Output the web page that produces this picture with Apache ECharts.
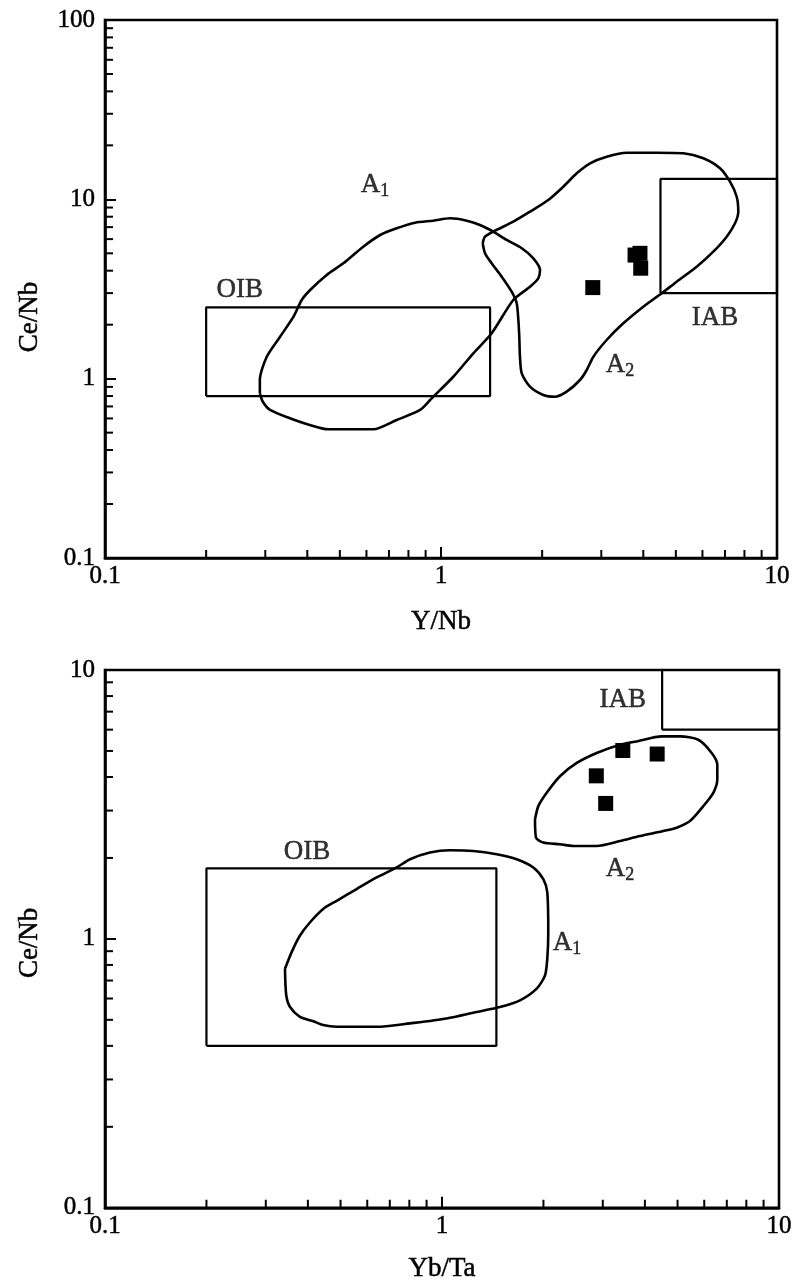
<!DOCTYPE html>
<html>
<head>
<meta charset="utf-8">
<script src="https://cdn.jsdelivr.net/npm/echarts@6/dist/echarts.min.js"></script>
<style>html,body{margin:0;padding:0;background:#fff}#c{width:800px;height:1284px}</style>
</head>
<body>
<div id="c"></div>
<script>
// ---------- data ----------
const topXName = 'Y/Nb';
const topYName = 'Ce/Nb';
const botXName = 'Yb/Ta';
const botYName = 'Ce/Nb';

// field boundaries (closed outlines), [x, y]
const topA1 = [[0.289,0.829],[0.295,0.744],[0.310,0.669],[0.355,0.601],[0.398,0.559],[0.462,0.522],[0.629,0.522],[0.738,0.588],[0.866,0.669],[0.938,0.777],[1.088,1.025],[1.248,1.385],[1.415,1.790],[1.641,2.746],[1.840,3.257],[1.948,3.627],[1.971,4.036],[1.883,4.690],[1.739,5.334],[1.569,5.934],[1.431,6.598],[1.306,7.193],[1.193,7.600],[1.064,7.838],[0.949,7.600],[0.837,7.408],[0.738,6.895],[0.659,6.326],[0.587,5.444],[0.512,4.399],[0.457,3.785],[0.408,3.122],[0.385,2.746],[0.364,2.216],[0.332,1.714],[0.303,1.326],[0.289,0.983]];
const topA2 = [[1.331,5.686],[1.352,6.189],[1.448,6.684],[1.641,7.506],[1.840,8.532],[2.086,9.915],[2.312,11.76],[2.535,13.97],[2.777,15.88],[3.112,17.29],[3.570,18.20],[4.385,18.20],[5.262,18.06],[6.036,16.93],[6.767,14.89],[7.246,12.54],[7.587,10.34],[7.670,8.532],[7.499,7.350],[7.085,6.189],[6.462,5.105],[5.768,4.210],[5.028,3.473],[4.538,2.992],[4.000,2.519],[3.488,2.035],[3.112,1.643],[2.841,1.326],[2.715,1.118],[2.592,0.983],[2.366,0.846],[2.184,0.793],[2.016,0.811],[1.840,0.902],[1.739,1.071],[1.718,1.326],[1.710,1.714],[1.699,2.124],[1.680,2.632],[1.623,3.054],[1.516,3.704],[1.415,4.399],[1.352,5.003]];
const botA1 = [[0.342,0.774],[0.345,0.617],[0.354,0.558],[0.379,0.513],[0.415,0.494],[0.444,0.478],[0.487,0.471],[0.655,0.471],[0.804,0.485],[1.033,0.506],[1.268,0.535],[1.486,0.558],[1.704,0.591],[1.910,0.653],[2.021,0.731],[2.053,0.843],[2.067,1.059],[2.053,1.489],[1.998,1.668],[1.866,1.844],[1.666,1.978],[1.453,2.064],[1.238,2.123],[1.056,2.136],[0.921,2.095],[0.804,1.978],[0.734,1.844],[0.640,1.692],[0.558,1.532],[0.487,1.386],[0.444,1.292],[0.406,1.153],[0.379,1.029],[0.358,0.893]];
const botA2 = [[1.888,2.783],[1.901,2.381],[1.998,2.281],[2.239,2.248],[2.453,2.216],[2.877,2.216],[3.375,2.312],[3.869,2.413],[4.536,2.518],[4.972,2.592],[5.444,2.743],[5.962,3.117],[6.383,3.494],[6.560,3.914],[6.560,4.448],[6.313,4.915],[5.761,5.503],[5.085,5.662],[4.486,5.662],[3.782,5.424],[3.375,5.275],[2.877,4.915],[2.511,4.512],[2.239,4.026],[2.045,3.494],[1.931,3.117]];

// rectangles: [xMin, xMax, yMin, yMax]
const topOIB = [0.2, 1.4, 0.8, 2.5];
const topIAB = [4.5, 10, 3.0, 13];
const botOIB = [0.2, 1.45, 0.4, 1.83];
const botIAB = [4.5, 10, 6.0, 10];

// samples
const topSamples = [[2.83,3.22],[3.91,5.00],[3.78,4.89],[3.93,4.13]];
const botSamples = [[3.44,5.02],[4.35,4.87],[2.87,4.04],[3.06,3.19]];

// axis ranges and minor ticks
const xRange = [0.1, 10];
const topYRange = [0.1, 100];
const botYRange = [0.1, 10];
const minorX = [0.2,0.3,0.4,0.5,0.6,0.7,0.8,0.9,2,3,4,5,6,7,8,9];
const minorTopY = [0.2,0.3,0.4,0.5,0.6,0.7,0.8,0.9,2,3,4,5,6,7,8,9,20,30,40,50,60,70,80,90];
const minorBotY = [0.2,0.3,0.4,0.5,0.6,0.7,0.8,0.9,2,3,4,5,6,7,8,9];

// field labels: [text key, x, y]
const topLabels = [['A1',0.636,12.0],['OIB',0.252,3.12],['IAB',6.54,2.18],['A2',3.41,1.19]];
const botLabels = [['IAB',3.44,7.74],['OIB',0.3975,2.10],['A2',3.375,1.816],['A1',2.35,0.967]];

// ---------- chart ----------
const FONT = '"Liberation Serif","Times New Roman",serif';
const FS = 27;
const TFS = 25;
const LW = 2.6;
const TB = {textBorderColor:'#000', textBorderWidth:0.5};

function closeRing(arr){ return arr.concat([arr[0]]); }
function rectRing(b){ return [[b[0],b[2]],[b[1],b[2]],[b[1],b[3]],[b[0],b[3]],[b[0],b[2]]]; }

function xAxisDef(gi, name, gap){
  return {
    gridIndex: gi, type:'log', logBase:10, min:xRange[0], max:xRange[1],
    name:name, nameLocation:'middle', nameGap:gap,
    nameTextStyle:Object.assign({fontFamily:FONT, fontSize:FS, color:'#000'}, TB),
    axisLine:{onZero:false, lineStyle:{color:'#000', width:2.6}},
    axisTick:{inside:true, length:11, lineStyle:{color:'#000', width:2}},
    axisLabel:Object.assign({fontFamily:FONT, fontSize:TFS, color:'#000', margin:6}, TB),
    splitLine:{show:false}
  };
}
function yAxisDef(gi, name, range, namePad){
  return {
    gridIndex: gi, type:'log', logBase:10, min:range[0], max:range[1],
    name:name, nameLocation:'middle', nameGap:62,
    nameTextStyle:Object.assign({fontFamily:FONT, fontSize:FS, color:'#000', padding:namePad}, TB),
    axisLine:{onZero:false, lineStyle:{color:'#000', width:2.6}},
    axisTick:{inside:true, length:11, lineStyle:{color:'#000', width:2}},
    axisLabel:Object.assign({fontFamily:FONT, fontSize:TFS, color:'#000', margin:10}, TB),
    splitLine:{show:false}
  };
}

function lineSeries(idx, data, smooth, width){
  return {
    type:'line', xAxisIndex:idx, yAxisIndex:idx, data:data, showSymbol:false, symbol:'none',
    smooth:smooth, lineStyle:{color:'#000', width:width}, silent:true, animation:false, z:3
  };
}
function minorXSeries(idx, yMin){
  return {
    type:'custom', xAxisIndex:idx, yAxisIndex:idx, silent:true, animation:false, clip:false,
    data: minorX.map(v => [v, yMin]),
    renderItem:(params, api) => {
      const p = api.coord([api.value(0), api.value(1)]);
      return {type:'line', shape:{x1:p[0], y1:p[1], x2:p[0], y2:p[1]-8}, style:{stroke:'#000', lineWidth:2}};
    }
  };
}
function minorYSeries(idx, ticks, xMin){
  return {
    type:'custom', xAxisIndex:idx, yAxisIndex:idx, silent:true, animation:false, clip:false,
    data: ticks.map(v => [xMin, v]),
    renderItem:(params, api) => {
      const p = api.coord([api.value(0), api.value(1)]);
      return {type:'line', shape:{x1:p[0], y1:p[1], x2:p[0]+8, y2:p[1]}, style:{stroke:'#000', lineWidth:2}};
    }
  };
}
const labelText = {
  'A1':'{m|A}{s|1}', 'A2':'{m|A}{s|2}', 'OIB':'{m|OIB}', 'IAB':'{m|IAB}'
};
function labelSeries(idx, labels){
  return {
    type:'scatter', xAxisIndex:idx, yAxisIndex:idx, symbolSize:0, silent:true, animation:false,
    data: labels.map(l => ({value:[l[1], l[2]], name:l[0]})),
    label:{
      show:true, position:'inside', color:'#000',
      formatter: p => labelText[p.name],
      rich:{
        m:Object.assign({fontFamily:FONT, fontSize:FS, color:'#000'}, TB),
        s:Object.assign({fontFamily:FONT, fontSize:18, color:'#000', verticalAlign:'bottom', padding:[12,0,0,0]}, TB)
      }
    }
  };
}
function sampleSeries(idx, data){
  return {
    type:'scatter', xAxisIndex:idx, yAxisIndex:idx, data:data, symbol:'rect', symbolSize:15,
    itemStyle:{color:'#000', opacity:1}, silent:true, animation:false, z:5
  };
}

const chart = echarts.init(document.getElementById('c'), null, {renderer:'canvas'});
chart.setOption({
  backgroundColor:'#fff',
  animation:false,
  grid:[
    {left:105, right:23, top:20, height:538, show:true, borderColor:'#000', borderWidth:2.6, backgroundColor:'transparent'},
    {left:105, right:21, top:670, height:540, show:true, borderColor:'#000', borderWidth:2.6, backgroundColor:'transparent'}
  ],
  xAxis:[ xAxisDef(0, topXName, 50), xAxisDef(1, botXName, 48) ],
  yAxis:[ yAxisDef(0, topYName, topYRange, [0,56,0,0]), yAxisDef(1, botYName, botYRange, [0,8,0,0]) ],
  series:[
    lineSeries(0, rectRing(topOIB), false, 2.2),
    lineSeries(0, rectRing(topIAB), false, 2.2),
    lineSeries(0, closeRing(topA1), 0.25, LW),
    lineSeries(0, closeRing(topA2), 0.25, LW),
    sampleSeries(0, topSamples),
    labelSeries(0, topLabels),
    minorXSeries(0, topYRange[0]),
    minorYSeries(0, minorTopY, xRange[0]),
    lineSeries(1, rectRing(botOIB), false, 2.2),
    lineSeries(1, rectRing(botIAB), false, 2.2),
    lineSeries(1, closeRing(botA1), 0.25, LW),
    lineSeries(1, closeRing(botA2), 0.25, LW),
    sampleSeries(1, botSamples),
    labelSeries(1, botLabels),
    minorXSeries(1, botYRange[0]),
    minorYSeries(1, minorBotY, xRange[0])
  ]
});
</script>
</body>
</html>
